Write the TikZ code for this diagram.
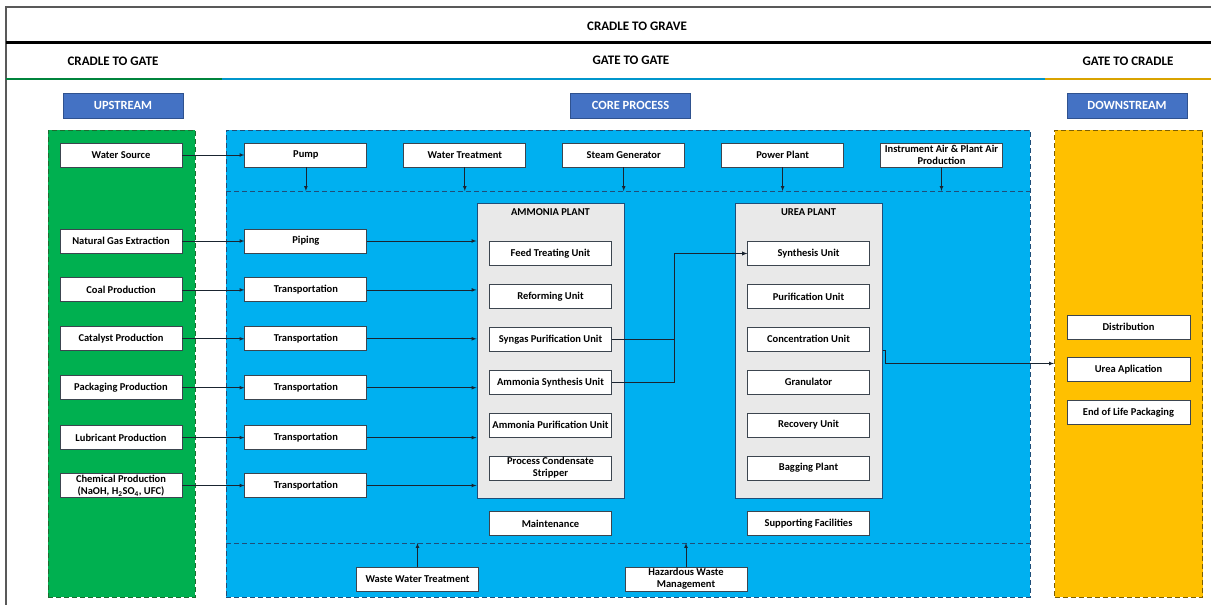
\documentclass[tikz,border=0pt]{standalone}
\usepackage{fontspec}
\setmainfont{Carlito}
\usetikzlibrary{shapes,arrows,positioning,calc}

\definecolor{upgreen}{HTML}{00B050}
\definecolor{upgreenline}{HTML}{1E6B30}
\definecolor{coreblue}{HTML}{00B0F0}
\definecolor{corebluelline}{HTML}{1F4E79}
\definecolor{downgold}{HTML}{FFC000}
\definecolor{downgoldline}{HTML}{7F6000}
\definecolor{headblue}{HTML}{4472C4}
\definecolor{headblueline}{HTML}{2F528F}
\definecolor{plantgray}{HTML}{E9E9E9}
\definecolor{wire}{HTML}{1A2430}

\begin{document}
\begin{tikzpicture}[x=1pt, y=-1pt, font=\fontsize{10.5}{12}\selectfont\bfseries]

% Define styles
\tikzstyle{unit} = [rectangle, minimum width=122pt, minimum height=24pt, inner xsep=1pt, inner ysep=0.3pt, align=center, draw=wire!85, fill=white, line width=0.9pt]
\tikzstyle{header} = [rectangle, minimum width=120pt, minimum height=25pt, text=white, draw=headblueline, fill=headblue, line width=0.8pt, font=\fontsize{12.5}{13}\selectfont\bfseries]
\tikzstyle{stage} = [font=\fontsize{13}{14}\selectfont\bfseries]
\tikzstyle{panel} = [rectangle, dash pattern=on 5pt off 3pt, line width=1pt, minimum height=467pt, inner sep=0pt]
\tikzstyle{plant} = [rectangle, minimum width=147pt, minimum height=295pt, draw=corebluelline, fill=plantgray, line width=1pt]
\tikzstyle{arrow} = [draw=wire, line width=0.7pt, ->, >=latex]
\tikzstyle{sep} = [draw=corebluelline, dash pattern=on 5pt off 3pt, line width=1pt]

\useasboundingbox (0,0) rectangle (1211,605);

% Frame and life cycle bands
\draw [black!65, line width=1.5pt] (6,605) -- (6,7) -- (1211,7);
\draw [black, line width=3pt] (6,42) -- (1211,42);
\draw [upgreen!75!black, line width=2.5pt] (6,79) -- (222,79);
\draw [coreblue!85!black, line width=2.5pt] (222,79) -- (1045,79);
\draw [downgold!85!black, line width=2.5pt] (1045,79) -- (1211,79);
\node (grave) [stage] at (637,26) {CRADLE TO GRAVE};
\node (togate) [stage] at (113,61) {CRADLE TO GATE};
\node (gategate) [stage] at (631,60) {GATE TO GATE};
\node (tocradle) [stage] at (1128,61) {GATE TO CRADLE};

% Section headers
\node (upstream) [header] at (123,105.5) {UPSTREAM};
\node (core) [header] at (630.5,105.5) {CORE PROCESS};
\node (downstream) [header] at (1127,105.5) {DOWNSTREAM};

% Panels
\node (uppanel) [panel, draw=upgreenline, fill=upgreen, minimum width=147pt] at (121.5,363.5) {};
\node (corepanel) [panel, draw=corebluelline, fill=coreblue, minimum width=804pt] at (628,363.5) {};
\node (downpanel) [panel, draw=downgoldline, fill=downgold, minimum width=148pt] at (1128.5,363.5) {};
\coordinate (topsep) at (226,191);
\coordinate (botsep) at (226,543);
\draw [sep] (topsep) -- (topsep -| corepanel.east);
\draw [sep] (botsep) -- (botsep -| corepanel.east);

% Upstream
\node (water) [unit] at (121,155) {Water Source};
\node (gas) [unit] at (121,241) {Natural Gas Extraction};
\node (coal) [unit, below=24pt of gas] {Coal Production};
\node (catalyst) [unit, below=24pt of coal] {Catalyst Production};
\node (packaging) [unit, below=24pt of catalyst] {Packaging Production};
\node (lubricant) [unit, below=25pt of packaging] {Lubricant Production};
\node (chemical) [unit, below=23pt of lubricant] {Chemical Production\\(NaOH, H\textsubscript{2}SO\textsubscript{4}, UFC)};

% Utilities row
\node (pump) [unit, right=62pt of water] {Pump};
\node (wtreat) [unit, right=36pt of pump] {Water Treatment};
\node (steam) [unit, right=36pt of wtreat] {Steam Generator};
\node (power) [unit, right=36pt of steam] {Power Plant};
\node (instair) [unit, right=36pt of power] {Instrument Air \& Plant Air\\Production};

% Transport
\node (piping) [unit, right=62pt of gas] {Piping};
\node (trcoal) [unit, right=62pt of coal] {Transportation};
\node (trcatalyst) [unit, right=62pt of catalyst] {Transportation};
\node (trpackaging) [unit, right=62pt of packaging] {Transportation};
\node (trlubricant) [unit, right=62pt of lubricant] {Transportation};
\node (trchemical) [unit, right=62pt of chemical] {Transportation};

% Ammonia plant
\node (ammonia) [plant] at (550.5,350.5) {};
\node [below=3pt of ammonia.north] {AMMONIA PLANT};
\node (feed) [unit] at (550.5,253.5) {Feed Treating Unit};
\node (reform) [unit, below=18pt of feed] {Reforming Unit};
\node (syngas) [unit, below=18pt of reform] {Syngas Purification Unit};
\node (amsynth) [unit, below=18pt of syngas] {Ammonia Synthesis Unit};
\node (ampurif) [unit, below=18pt of amsynth] {Ammonia Purification Unit};
\node (stripper) [unit, below=18pt of ampurif] {Process Condensate\\Stripper};
\node (maint) [unit, below=31pt of stripper] {Maintenance};

% Urea plant
\node (urea) [plant] at (808.5,350.5) {};
\node [below=3pt of urea.north] {UREA PLANT};
\node (ureasynth) [unit] at (808.5,253.5) {Synthesis Unit};
\node (ureapurif) [unit, below=18pt of ureasynth] {Purification Unit};
\node (concentr) [unit, below=18pt of ureapurif] {Concentration Unit};
\node (granul) [unit, below=18pt of concentr] {Granulator};
\node (recovery) [unit, below=18pt of granul] {Recovery Unit};
\node (bagging) [unit, below=18pt of recovery] {Bagging Plant};
\node (support) [unit, below=31pt of bagging] {Supporting Facilities};

% Waste
\node (wwt) [unit] at (417.5,579) {Waste Water Treatment};
\node (hazard) [unit] at (686,579) {Hazardous Waste\\Management};

% Downstream
\node (distrib) [unit, minimum width=123pt] at (1128.5,327) {Distribution};
\node (apply) [unit, minimum width=123pt, below=17.5pt of distrib] {Urea Aplication};
\node (eol) [unit, minimum width=123pt, below=18pt of apply] {End of Life Packaging};

% Supply connections
\draw [arrow] (water) -- (pump);
\draw [arrow] (gas) -- (piping);
\draw [arrow] (coal) -- (trcoal);
\draw [arrow] (catalyst) -- (trcatalyst);
\draw [arrow] (packaging) -- (trpackaging);
\draw [arrow] (lubricant) -- (trlubricant);
\draw [arrow] (chemical) -- (trchemical);

% Into ammonia plant
\draw [arrow] (piping.east) -- (piping.east -| ammonia.west);
\draw [arrow] (trcoal.east) -- (trcoal.east -| ammonia.west);
\draw [arrow] (trcatalyst.east) -- (trcatalyst.east -| ammonia.west);
\draw [arrow] (trpackaging.east) -- (trpackaging.east -| ammonia.west);
\draw [arrow] (trlubricant.east) -- (trlubricant.east -| ammonia.west);
\draw [arrow] (trchemical.east) -- (trchemical.east -| ammonia.west);

% Utilities to process
\draw [arrow] (pump.south) -- (pump.south |- topsep);
\draw [arrow] (wtreat.south) -- (wtreat.south |- topsep);
\draw [arrow] (steam.south) -- (steam.south |- topsep);
\draw [arrow] (power.south) -- (power.south |- topsep);
\draw [arrow] (instair.south) -- (instair.south |- topsep);

% Ammonia to urea
\draw [arrow] (syngas.east) -- ++(62,0) |- (ureasynth.west);
\draw [arrow] (amsynth.east) -- ++(62,0) |- (ureasynth.west);

% Urea to downstream
\draw [arrow] (urea.east) -- ++(3,0) |- (downpanel.west);

% Waste handling
\draw [arrow] (wwt.north) -- (wwt.north |- botsep);
\draw [arrow] (hazard.north) -- (hazard.north |- botsep);

\end{tikzpicture}
\end{document}
